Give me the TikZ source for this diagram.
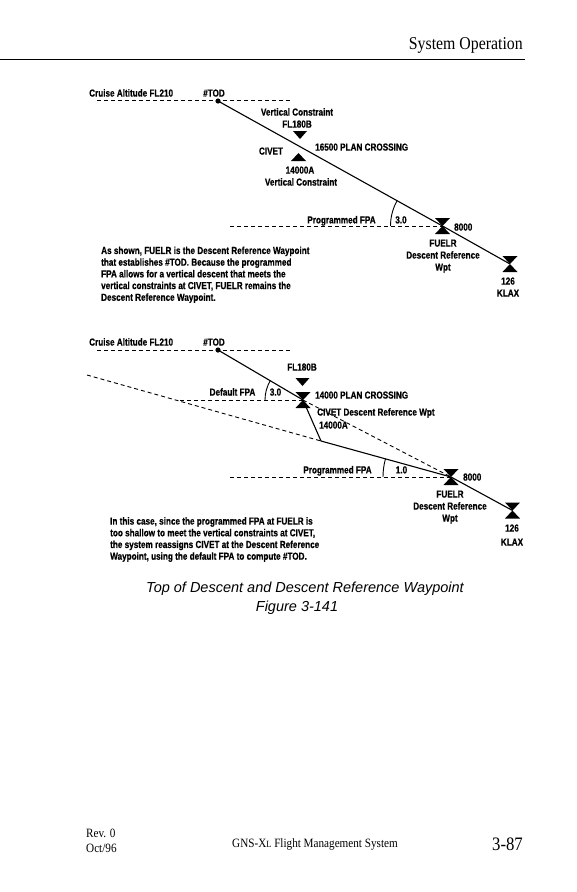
\documentclass[tikz,border=0pt]{standalone}
\usepackage{fontspec}
\setmainfont{Liberation Serif}
\newfontfamily\labfont[FakeStretch=0.8, BoldFeatures={FakeBold=0.5}]{Liberation Sans}
\newfontfamily\headfont[FakeStretch=0.88]{Liberation Serif}
\newfontfamily\capfont{Liberation Sans}
\begin{document}
\begin{tikzpicture}[x=1pt,y=-1pt,
  lbl/.style={font={\labfont\bfseries\fontsize{10.2}{11.7}\selectfont}, inner sep=0pt},
  para/.style={lbl, align=left, anchor=north west},
  dashln/.style={line width=0.9pt, dash pattern=on 4pt off 3pt},
  pathln/.style={line width=1.1pt},
  arcln/.style={line width=0.9pt},
  hglass/.pic={\fill (-7.5,-8) -- (7.5,-8) -- (0,0) -- cycle (-7.5,8) -- (7.5,8) -- (0,0) -- cycle;},
  downtri/.pic={\fill (-7,-4) -- (7,-4) -- (0,4) -- cycle;},
  uptri/.pic={\fill (-7.5,4) -- (7.5,4) -- (0,-4) -- cycle;}
]
\useasboundingbox (0,0) rectangle (577,892);

% ---------- header ----------
\node[font={\headfont\fontsize{18}{20}\selectfont}, inner sep=0pt, anchor=base east] (hdr) at (523,49) {System Operation};
\coordinate (ruleL) at (0,59.5);
\coordinate (ruleR) at (525,59.5);
\draw[line width=1.3pt] (ruleL) -- (ruleR);

% ---------- top diagram ----------
\coordinate (todA) at (218,101);
\coordinate (fuelrA) at (442.5,226);
\coordinate (klaxA) at (510,264);
\coordinate (cruiseAL) at (97,100);
\coordinate (cruiseAR) at (290,100);
\coordinate (fpaAL) at (230,226);

\draw[dashln] (cruiseAL) -- (cruiseAR);
\draw[dashln] (fpaAL) -- (fuelrA);
\draw[pathln] (todA) -- (fuelrA) -- (klaxA);
\fill (todA) circle[radius=2.6pt];
\pic at (fuelrA) {hglass};
\pic at (klaxA) {hglass};
\pic at (300,135) {downtri};
\pic at (298.5,157) {uptri};
\draw[arcln] (390.5,226) arc[start angle=180, end angle=150.9, radius=52pt];

\node[lbl, anchor=base west] (cruiseA) at (89,96.6) {Cruise Altitude FL210};
\node[lbl, anchor=base] (todAl) at (214,96.6) {\#TOD};
\node[lbl, anchor=base] (vc1) at (297,115.6) {Vertical Constraint};
\node[lbl, anchor=base] (fl180A) at (297,127.6) {FL180B};
\node[lbl, anchor=base] (civetA) at (271,154.6) {CIVET};
\node[lbl, anchor=base west] (planA) at (315,150.6) {16500 PLAN CROSSING};
\node[lbl, anchor=base] (altA) at (300,173.6) {14000A};
\node[lbl, anchor=base] (vc2) at (301,185.6) {Vertical Constraint};
\node[lbl, anchor=base] (pfpaA) at (341.5,223.4) {Programmed FPA};
\node[lbl, anchor=base] (angA) at (401,223.4) {3.0};
\node[lbl, anchor=base west] (ftA) at (454,230.6) {8000};
\node[lbl, anchor=base] (fnA) at (443,246.6) {FUELR};
\node[lbl, anchor=base] (fdA) at (443,258.6) {Descent Reference};
\node[lbl, anchor=base] (fwA) at (443,270.6) {Wpt};
\node[lbl, anchor=base] (knA) at (508,284.6) {126};
\node[lbl, anchor=base] (kxA) at (508,296.6) {KLAX};
\node[para] (paraA) at (101,246.4) {As shown, FUELR is the Descent Reference Waypoint\\
that establishes \#TOD. Because the programmed\\
FPA allows for a vertical descent that meets the\\
vertical constraints at CIVET, FUELR remains the\\
Descent Reference Waypoint.};

% ---------- bottom diagram ----------
\coordinate (todB) at (218,350);
\coordinate (civetB) at (303,400);
\coordinate (kinkB) at (321,441);
\coordinate (fuelrB) at (451,477);
\coordinate (klaxB) at (512.5,510.5);
\coordinate (cruiseBL) at (97,350);
\coordinate (cruiseBR) at (290,350);
\coordinate (dfpaL) at (180,400);
\coordinate (fpaBL) at (230,477);
\coordinate (extL) at (87,375);

\draw[dashln] (cruiseBL) -- (cruiseBR);
\draw[dashln] (dfpaL) -- (civetB);
\draw[dashln] (fpaBL) -- (fuelrB);
\draw[dashln] (extL) -- (kinkB);
\draw[dashln] (civetB) -- (fuelrB);
\draw[pathln] (todB) -- (civetB) -- (kinkB) -- (fuelrB) -- (klaxB);
\fill (todB) circle[radius=2.6pt];
\pic at (civetB) {hglass};
\pic at (fuelrB) {hglass};
\pic at (klaxB) {hglass};
\pic at (302.5,382) {downtri};
\draw[arcln] (265,400) arc[start angle=180, end angle=149.5, radius=38pt];
\draw[arcln] (383,477) arc[start angle=180, end angle=164.5, radius=68pt];

\node[lbl, anchor=base west] (cruiseB) at (89,345.6) {Cruise Altitude FL210};
\node[lbl, anchor=base] (todBl) at (214,345.6) {\#TOD};
\node[lbl, anchor=base] (fl180B) at (302,370.6) {FL180B};
\node[lbl, anchor=base] (dfpa) at (232.5,395.6) {Default FPA};
\node[lbl, anchor=base] (angB1) at (275.5,395.6) {3.0};
\node[lbl, anchor=base west] (planB) at (315,398.6) {14000 PLAN CROSSING};
\node[lbl, anchor=base west] (civetBl) at (317,415.6) {CIVET Descent Reference Wpt};
\node[lbl, anchor=base west] (altB) at (319,428.6) {14000A};
\node[lbl, anchor=base] (pfpaB) at (337.5,473.4) {Programmed FPA};
\node[lbl, anchor=base] (angB2) at (401.5,473.4) {1.0};
\node[lbl, anchor=base west] (ftB) at (463,480.6) {8000};
\node[lbl, anchor=base] (fnB) at (450,497.6) {FUELR};
\node[lbl, anchor=base] (fdB) at (450,509.6) {Descent Reference};
\node[lbl, anchor=base] (fwB) at (450,521.6) {Wpt};
\node[lbl, anchor=base] (knB) at (512,531.6) {126};
\node[lbl, anchor=base] (kxB) at (512,545.6) {KLAX};
\node[para] (paraB) at (110,517) {In this case, since the programmed FPA at FUELR is\\
too shallow to meet the vertical constraints at CIVET,\\
the system reassigns CIVET at the Descent Reference\\
Waypoint, using the default FPA to compute \#TOD.};

% ---------- caption ----------
\node[font={\capfont\itshape\fontsize{14.5}{17}\selectfont}, inner sep=0pt, anchor=base] (cap1) at (305,592) {Top of Descent and Descent Reference Waypoint};
\node[font={\capfont\itshape\fontsize{14.5}{17}\selectfont}, inner sep=0pt, anchor=base] (cap2) at (297,611.7) {Figure 3-141};

% ---------- footer ----------
\node[font={\headfont\fontsize{12.7}{14}\selectfont}, inner sep=0pt, anchor=base west] (rev) at (86,837.7) {Rev. 0};
\node[font={\headfont\fontsize{12.7}{14}\selectfont}, inner sep=0pt, anchor=base west] (oct) at (86,852.7) {Oct/96};
\node[font={\headfont\fontsize{12.7}{14}\selectfont}, inner sep=0pt, anchor=base] (gns) at (315,847.3) {GNS-X{\fontsize{9.5}{10}\selectfont L} Flight Management System};
\node[font={\headfont\fontsize{19}{21}\selectfont}, inner sep=0pt, anchor=base east] (pg) at (523,850) {3-87};
\end{tikzpicture}
\end{document}
